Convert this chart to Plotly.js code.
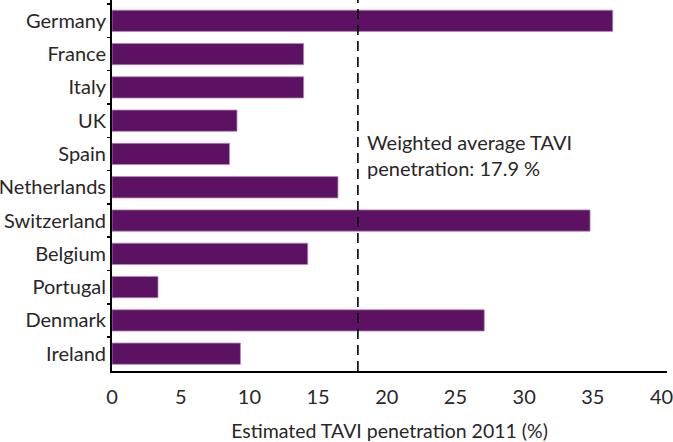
<!DOCTYPE html>
<html>
<head>
<meta charset="utf-8">
<script src="https://cdn.plot.ly/plotly-3.0.1.min.js"></script>
<style>html,body{margin:0;padding:0;background:#fff;}#chart{width:673px;height:442px;}</style>
</head>
<body>
<div id="chart"></div>
<script>
const countries = ["Germany","France","Italy","UK","Spain","Netherlands","Switzerland","Belgium","Portugal","Denmark","Ireland"];
const penetration = [36.45, 13.95, 13.95, 9.1, 8.55, 16.45, 34.8, 14.25, 3.35, 27.1, 9.35];
const weightedAverage = 17.9;
const xTicks = [0,5,10,15,20,25,30,35,40];
const annotationText = "Weighted average TAVI<br>penetration: 17.9 %";
const xTitle = "Estimated TAVI penetration 2011 (%)";

const font = "Lato, 'Open Sans', sans-serif";
const textColor = "#2a2628";

const trace = {
  type: "bar",
  orientation: "h",
  x: penetration,
  y: countries,
  marker: { color: "#5c1162", line: { color: "#b48cb8", width: 0.8 } },
  hoverinfo: "x+y"
};

const layout = {
  width: 673, height: 442,
  margin: { l: 112, r: 6, t: 0, b: 71 },
  paper_bgcolor: "#fff", plot_bgcolor: "#fff",
  showlegend: false,
  bargap: 0.36,
  font: { family: font, size: 20, color: textColor },
  xaxis: {
    range: [0, 40.4],
    tickvals: xTicks,
    ticktext: xTicks.map(String),
    showgrid: false, zeroline: false,
    showline: true, linecolor: "#000", linewidth: 2,
    ticks: "",
    ticklabelstandoff: 7,
    ticklabeloverflow: "allow",
    tickfont: { family: font, size: 20, color: textColor },
    title: { text: xTitle, font: { family: font, size: 19.5, color: textColor }, standoff: 17 }
  },
  yaxis: {
    type: "category",
    categoryorder: "array", categoryarray: countries,
    range: [10.52, -0.625],
    showgrid: false, zeroline: false,
    showline: true, linecolor: "#000", linewidth: 2,
    ticks: "outside", ticklen: 3, tickwidth: 1.5, tickcolor: "#000",
    tickson: "boundaries",
    tickfont: { family: font, size: 20, color: textColor }
  },
  shapes: [{
    type: "line", xref: "x", yref: "paper",
    x0: weightedAverage, x1: weightedAverage, y0: 0, y1: 1,
    line: { color: "#000", width: 1.6, dash: "10px,6px" }
  }],
  annotations: [{
    xref: "x", yref: "paper",
    x: 18.4, y: 0.582,
    xanchor: "left", yanchor: "middle",
    align: "left",
    showarrow: false,
    text: annotationText,
    font: { family: font, size: 20, color: textColor }
  }]
};

Plotly.newPlot("chart", [trace], layout, { staticPlot: true, displayModeBar: false });
</script>
</body>
</html>
